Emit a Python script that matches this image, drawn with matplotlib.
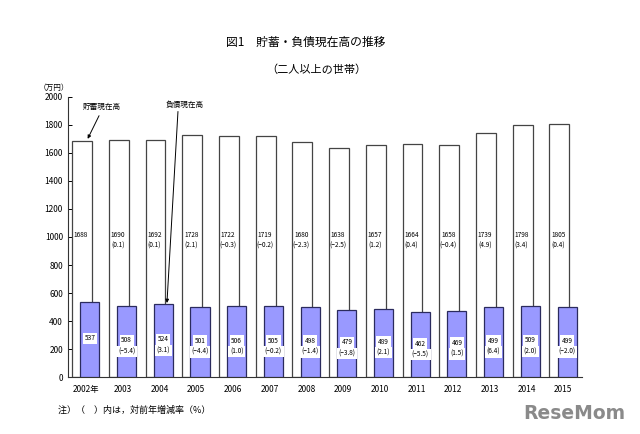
import matplotlib
matplotlib.use("Agg")
import matplotlib.pyplot as plt
import numpy as np

plt.rcParams['font.family'] = ['Noto Sans CJK JP', 'DejaVu Sans']

years = ['2002年', '2003', '2004', '2005', '2006', '2007', '2008',
         '2009', '2010', '2011', '2012', '2013', '2014', '2015']
savings = [1688, 1690, 1692, 1728, 1722, 1719, 1680, 1638, 1657, 1664, 1658, 1739, 1798, 1805]
savings_rate = [None, 0.1, 0.1, 2.1, -0.3, -0.2, -2.3, -2.5, 1.2, 0.4, -0.4, 4.9, 3.4, 0.4]
debt = [537, 508, 524, 501, 506, 505, 498, 479, 489, 462, 469, 499, 509, 499]
debt_rate = [None, -5.4, 3.1, -4.4, 1.0, -0.2, -1.4, -3.8, 2.1, -5.5, 1.5, 6.4, 2.0, -2.0]


def fmt(r):
    return '(' + ('%.1f' % r).replace('-', '−') + ')'


fig = plt.figure(figsize=(6.4, 4.34), dpi=100)
ax = fig.add_axes([0.106, 0.131, 0.803, 0.646])

x = np.arange(len(years))
ax.bar(x - 0.11, savings, width=0.54, color='white', edgecolor='#444444', linewidth=0.9, zorder=2)
ax.bar(x + 0.10, debt, width=0.52, color='#9999FF', edgecolor='#2b2b5e', linewidth=0.9, zorder=3)

for i in range(len(years)):
    ax.text(x[i] - 0.14, 1015, str(savings[i]), ha='center', va='center', fontsize=4.7, zorder=4)
    if savings_rate[i] is not None:
        ax.text(x[i] - 0.14, 940, fmt(savings_rate[i]), ha='center', va='center', fontsize=4.7, zorder=4)
    box = dict(facecolor='white', edgecolor='none', pad=1.2)
    ax.text(x[i] + 0.10, debt[i] / 2 + 8, str(debt[i]), ha='center', va='center', fontsize=4.7,
            bbox=box, zorder=4)
    if debt_rate[i] is not None:
        ax.text(x[i] + 0.10, debt[i] / 2 - 70, fmt(debt_rate[i]), ha='center', va='center', fontsize=4.7,
                bbox=box, zorder=4)

arrow = dict(arrowstyle='-|>', color='black', lw=0.7, mutation_scale=5, shrinkA=0, shrinkB=0)
ax.text(x[0] - 0.08, 1925, '貯蓄現在高', fontsize=5.5, ha='left', va='center')
ax.annotate('', xy=(x[0] + 0.04, savings[0] + 12), xytext=(x[0] + 0.35, 1865), arrowprops=arrow)
ax.text(x[2] + 0.15, 1945, '負債現在高', fontsize=5.5, ha='left', va='center')
ax.annotate('', xy=(x[2] + 0.2, debt[2] + 5), xytext=(x[2] + 0.5, 1895), arrowprops=arrow)

ax.set_xlim(-0.5, 13.5)
ax.set_ylim(0, 2000)
ax.set_yticks(range(0, 2001, 200))
ax.set_xticks(x)
ax.set_xticklabels(years)
ax.tick_params(axis='y', direction='in', length=3, labelsize=6, width=0.7)
ax.tick_params(axis='x', length=0, labelsize=6, pad=6)
for s in ['top', 'right']:
    ax.spines[s].set_visible(False)
for s in ['left', 'bottom']:
    ax.spines[s].set_linewidth(0.8)
    ax.spines[s].set_color('#333333')

fig.text(0.477, 0.903, '図1　貯蓄・負債現在高の推移', ha='center', va='center', fontsize=8.5)
fig.text(0.495, 0.839, '（二人以上の世帯）', ha='center', va='center', fontsize=8)
fig.text(0.085, 0.797, '（万円）', ha='center', va='center', fontsize=5.5)
fig.text(0.09, 0.055, '注）（　）内は，対前年増減率（%）', ha='left', va='center', fontsize=6.5)
fig.text(0.977, 0.048, 'ReseMom', ha='right', va='center', fontsize=13.5, fontweight='bold',
         color='#8a8a8a', family='DejaVu Sans')

fig.savefig('out.png', dpi=100)
